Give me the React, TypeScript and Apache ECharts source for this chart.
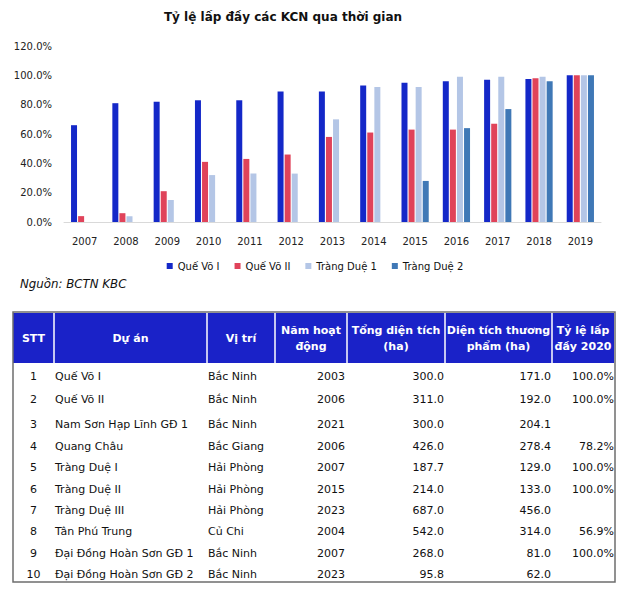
import React, { useEffect, useRef } from "react";
import * as echarts from "echarts";

// ---- chart data ----
const years = ["2007", "2008", "2009", "2010", "2011", "2012", "2013", "2014", "2015", "2016", "2017", "2018", "2019"];
const queVo1 = [66, 81, 82, 83, 83, 89, 89, 93, 95, 96, 97, 97.5, 100];
const queVo2 = [4, 6, 21, 41, 43, 46, 58, 61, 63, 63, 67, 98, 100];
const trangDue1 = [null, 4, 15, 32, 33, 33, 70, 92, 92, 99, 99, 99, 100];
const trangDue2 = [null, null, null, null, null, null, null, null, 28, 64, 77, 96, 100];
const seriesNames = ["Quế Võ I", "Quế Võ II", "Tràng Duệ 1", "Tràng Duệ 2"];
const yTicks = [0, 20, 40, 60, 80, 100, 120];

const titleText = "Tỷ lệ lấp đầy các KCN qua thời gian";
const sourceText = "Nguồn: BCTN KBC";

// ---- table data ----
const headers = ["STT", "Dự án", "Vị trí", "Năm hoạt\nđộng", "Tổng diện tích\n(ha)", "Diện tích thương\nphẩm (ha)", "Tỷ lệ lấp\nđầy 2020"];
const stt = ["1", "2", "3", "4", "5", "6", "7", "8", "9", "10"];
const projects = ["Quế Võ I", "Quế Võ II", "Nam Sơn Hạp Lĩnh GĐ 1", "Quang Châu", "Tràng Duệ I", "Tràng Duệ II", "Tràng Duệ III", "Tân Phú Trung", "Đại Đồng Hoàn Sơn GĐ 1", "Đại Đồng Hoàn Sơn GĐ 2"];
const locations = ["Bắc Ninh", "Bắc Ninh", "Bắc Ninh", "Bắc Giang", "Hải Phòng", "Hải Phòng", "Hải Phòng", "Củ Chi", "Bắc Ninh", "Bắc Ninh"];
const startYears = [2003, 2006, 2021, 2006, 2007, 2015, 2023, 2004, 2007, 2023];
const totalArea = [300.0, 311.0, 300.0, 426.0, 187.7, 214.0, 687.0, 542.0, 268.0, 95.8];
const commercialArea = [171.0, 192.0, 204.1, 278.4, 129.0, 133.0, 456.0, 314.0, 81.0, 62.0];
const occupancy2020 = [100.0, 100.0, null, 78.2, 100.0, 100.0, null, 56.9, 100.0, null];

// ---- layout (not data) ----
const FONT = "DejaVu Sans";
const COL_EDGES = [13, 54, 207, 275, 347, 445, 552, 614];
const ROW_Y = [376, 399.5, 424, 446, 467, 489, 510, 531, 553, 574];
const HEADER_TOP = 313;
const HEADER_BOTTOM = 363;
const TABLE_BOTTOM = 582;
const HEADER_BLUE = "#1a22c8";
const COLORS = ["#1428c8", "#e0435a", "#b4c6e6", "#3f78b6"];

function buildGraphic() {
  const g: any[] = [];
  g.push({
    type: "text", x: 283, y: 17,
    style: { text: titleText, fill: "#111", fontFamily: FONT, fontSize: 12, fontWeight: "bold", align: "center", verticalAlign: "middle" },
  });
  g.push({
    type: "text", x: 20, y: 284,
    style: { text: sourceText, fill: "#111", fontFamily: FONT, fontSize: 11.8, fontStyle: "italic", align: "left", verticalAlign: "middle" },
  });
  // header background
  g.push({
    type: "rect",
    shape: { x: COL_EDGES[0], y: HEADER_TOP, width: COL_EDGES[COL_EDGES.length - 1] - COL_EDGES[0], height: HEADER_BOTTOM - HEADER_TOP },
    style: { fill: HEADER_BLUE },
  });
  for (let i = 1; i < COL_EDGES.length - 1; i++) {
    g.push({
      type: "line",
      shape: { x1: COL_EDGES[i], y1: HEADER_TOP, x2: COL_EDGES[i], y2: HEADER_BOTTOM },
      style: { stroke: "#ffffff", lineWidth: 1.5 },
    });
  }
  headers.forEach((h, i) => {
    g.push({
      type: "text",
      x: (COL_EDGES[i] + COL_EDGES[i + 1]) / 2,
      y: (HEADER_TOP + HEADER_BOTTOM) / 2,
      style: { text: h, fill: "#ffffff", fontFamily: FONT, fontSize: 11, fontWeight: "bold", lineHeight: 16, align: "center", verticalAlign: "middle" },
    });
  });
  // outer border
  g.push({
    type: "rect",
    shape: { x: COL_EDGES[0], y: HEADER_TOP - 1, width: COL_EDGES[COL_EDGES.length - 1] - COL_EDGES[0] + 1, height: TABLE_BOTTOM - HEADER_TOP + 1 },
    style: { fill: "none", stroke: "#6e6e6e", lineWidth: 1.5 },
  });
  const cell = (text: string, x: number, y: number, align: string) => ({
    type: "text", x, y,
    style: { text, fill: "#111", fontFamily: FONT, fontSize: 11, align, verticalAlign: "middle" },
  });
  for (let r = 0; r < stt.length; r++) {
    const y = ROW_Y[r];
    g.push(cell(stt[r], (COL_EDGES[0] + COL_EDGES[1]) / 2, y, "center"));
    g.push(cell(projects[r], COL_EDGES[1] + 1, y, "left"));
    g.push(cell(locations[r], COL_EDGES[2] + 1, y, "left"));
    g.push(cell(String(startYears[r]), COL_EDGES[4] - 2, y, "right"));
    g.push(cell(totalArea[r].toFixed(1), COL_EDGES[5] - 1, y, "right"));
    g.push(cell(commercialArea[r].toFixed(1), COL_EDGES[6] - 1, y, "right"));
    const occ = occupancy2020[r];
    if (occ !== null) g.push(cell(occ.toFixed(1) + "%", COL_EDGES[7], y, "right"));
  }
  return g;
}

export default function App() {
  const ref = useRef<HTMLDivElement>(null);
  useEffect(() => {
    if (!ref.current) return;
    const chart = echarts.init(ref.current, undefined, { renderer: "svg" });
    const seriesData = [queVo1, queVo2, trangDue1, trangDue2];
    chart.setOption({
      animation: false,
      backgroundColor: "#ffffff",
      textStyle: { fontFamily: FONT },
      color: COLORS,
      legend: {
        data: seriesNames,
        left: "center",
        top: 256,
        icon: "rect",
        itemWidth: 6,
        itemHeight: 6,
        itemGap: 15,
        textStyle: { fontFamily: FONT, fontSize: 10, color: "#111" },
      },
      grid: { left: 64, top: 46, width: 537, height: 176, containLabel: false },
      xAxis: {
        type: "category",
        data: years,
        axisLine: { lineStyle: { color: "#d9d9d9", width: 1 } },
        axisTick: { show: false },
        axisLabel: { fontFamily: FONT, fontSize: 10, color: "#222", margin: 14 },
      },
      yAxis: {
        type: "value",
        min: yTicks[0],
        max: yTicks[yTicks.length - 1],
        interval: yTicks[1] - yTicks[0],
        splitLine: { show: false },
        axisLine: { show: false },
        axisTick: { show: false },
        axisLabel: { fontFamily: FONT, fontSize: 10, color: "#222", margin: 12, formatter: (v: number) => v.toFixed(1) + "%" },
      },
      series: seriesNames.map((name, i) => ({
        name,
        type: "bar",
        data: seriesData[i],
        barWidth: 6,
        barGap: "18%",
        itemStyle: { color: COLORS[i] },
      })),
      graphic: buildGraphic(),
    });
    return () => chart.dispose();
  }, []);
  return <div ref={ref} style={{ position: "fixed", left: 0, top: 0, width: 630, height: 590 }} />;
}
